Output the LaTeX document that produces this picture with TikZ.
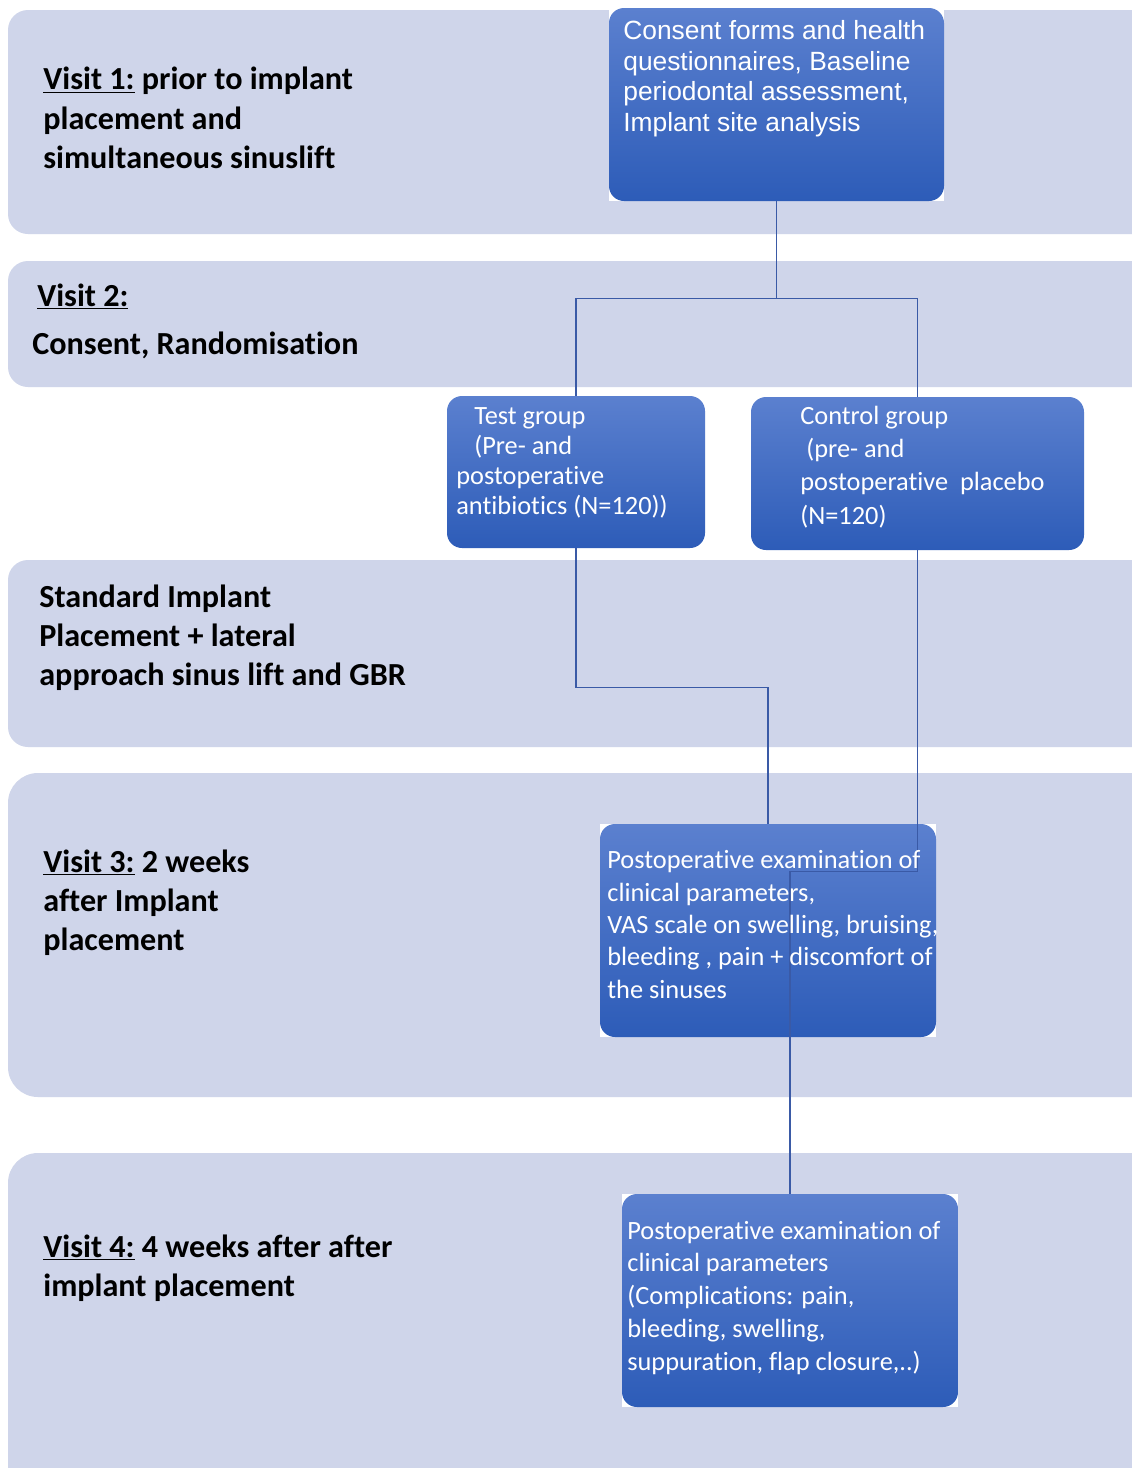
\documentclass[tikz,border=0pt]{standalone}
\usepackage{fontspec}
\setmainfont[Ligatures=NoCommon]{Carlito}
\newfontfamily\arialfont{Liberation Sans}
\usetikzlibrary{fit}
\definecolor{bandcol}{HTML}{CFD5EA}
\definecolor{boxtop}{HTML}{5B80CF}
\definecolor{boxbot}{HTML}{2D5CB8}
\definecolor{linecol}{HTML}{3A5AA6}
\tikzset{
    band/.style = {fill=bandcol, rounded corners=0.4cm},
    stage/.style = {rectangle, rounded corners=0.3cm,
        top color=boxtop, bottom color=boxbot, inner sep=0pt},
    stagetext/.style = {anchor=base west, inner sep=0pt, text=white, align=left},
    visit/.style = {anchor=base west, inner sep=0pt, align=left,
        font=\fontsize{18.3pt}{22.2pt}\selectfont\bfseries},
    link/.style = {draw=linecol, line width=0.7pt}
}

\begin{document}
\begin{tikzpicture}[x=0.02cm, y=-0.02cm]
    \clip (0,0) rectangle (1132,1468);
    \fill[white] (0,0) rectangle (1132,1468);

    % visit bands
    \fill[band] (8,10) rectangle (1170,234);
    \fill[band] (8,261) rectangle (1170,387);
    \fill[band] (8,560) rectangle (1170,747);
    \fill[band, rounded corners=0.6cm] (8,773) rectangle (1170,1097);
    \fill[band, rounded corners=0.6cm] (8,1153) rectangle (1170,1520);

    % placed by the baseline of the last line
    \node [visit] (visit1) at (43,168) {\underline{Visit 1:} prior to implant\\placement and\\simultaneous sinuslift};
    \node [visit] (visit2) at (32,354) {\hspace*{2.8pt}\underline{Visit 2:}\\[5.1pt]Consent, Randomisation};
    \node [visit] (surgery) at (39,685) {Standard Implant\\Placement + lateral\\approach sinus lift and GBR};
    \node [visit] (visit3) at (43,950) {\underline{Visit 3:} 2 weeks\\after Implant\\placement};
    \node [visit] (visit4) at (43,1296) {\underline{Visit 4:} 4 weeks after after\\implant placement};

    % blue boxes
    \fill[white] (609,8) rectangle (944,201);
    \node [stage, fit={(609,8) (944,201)}] (consent) {};
    \node [stage, fit={(447,396) (705,548)}] (test) {};
    \node [stage, fit={(751,397) (1084,550)}] (control) {};
    \fill[white] (600,824) rectangle (936,1037);
    \node [stage, fit={(600,824) (936,1037)}] (postop) {};
    \fill[white] (622,1194) rectangle (958,1407);
    \node [stage, fit={(622,1194) (958,1407)}] (followup) {};

    \draw [link] (consent.south) -- ++(0,97) coordinate (split);
    \draw [link] (test.north) |- (split) -| (control.north);
    \draw [link] (test.south) -- ++(0,139) -| (postop.north);
    \draw [link] (control.south) -- ++(0,321) -| (followup.north);

    \node [stagetext, font=\arialfont\fontsize{15pt}{17.36pt}\selectfont] (consenttext) at (623,131)
        {Consent forms and health\\questionnaires, Baseline\\periodontal assessment,\\Implant site analysis};
    \node [stagetext, font=\fontsize{15pt}{16.9pt}\selectfont] (testtext) at (456,514)
        {\hspace*{10.2pt}Test group\\\hspace*{10.2pt}(Pre- and\\postoperative\\antibiotics (N=120))};
    \node [stagetext, font=\fontsize{15pt}{18.8pt}\selectfont] (controltext) at (800,524)
        {Control group\\\hspace*{3.4pt}(pre- and\\postoperative\ \ placebo\\(N=120)};
    \node [stagetext, font=\fontsize{15pt}{18.4pt}\selectfont] (postoptext) at (607,998)
        {Postoperative examination of\\clinical parameters,\\VAS scale on swelling, bruising,\\bleeding , pain + discomfort of\\the sinuses};
    \node [stagetext, font=\fontsize{15pt}{18.6pt}\selectfont] (followtext) at (627,1370)
        {Postoperative examination of\\clinical parameters\\(Complications: pain,\\bleeding, swelling,\\suppuration, flap closure,..)};
\end{tikzpicture}
\end{document}
